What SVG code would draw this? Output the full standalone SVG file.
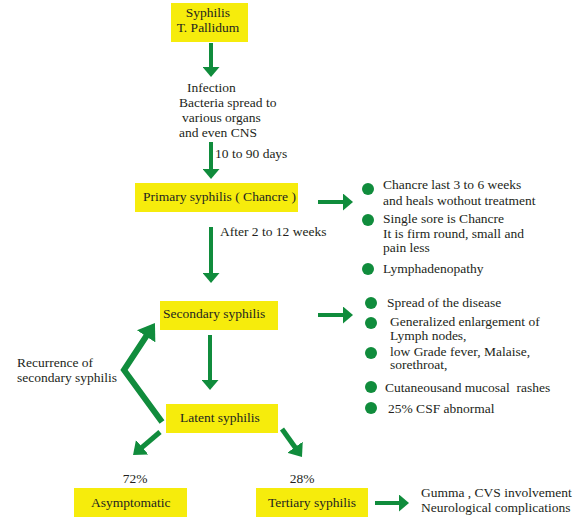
<svg xmlns="http://www.w3.org/2000/svg" width="585" height="526" viewBox="0 0 585 526" font-family="'Liberation Serif', 'Times New Roman', Times, serif" font-size="13.5">
<style>
.box{fill:#f6ec0c}
text{font-family:'Liberation Serif','Times New Roman',Times,serif;font-size:13.5px;fill:#231f20}
.mid{text-anchor:middle}
.sh{fill:none;stroke:#108c3c;stroke-width:4}
.dg{fill:none;stroke:#108c3c;stroke-width:5}
.rc{fill:none;stroke:#108c3c;stroke-width:6;stroke-linejoin:miter}
.dot{fill:#108c3c}
</style>
<defs>
<marker id="ah" markerUnits="userSpaceOnUse" markerWidth="10" markerHeight="17" viewBox="0 0 10 17" refX="1" refY="8.5" orient="auto"><path d="M0,0 L10,8.5 L0,17 z" fill="#108c3c"/></marker>
<marker id="ahd" markerUnits="userSpaceOnUse" markerWidth="12" markerHeight="19" viewBox="0 0 12 19" refX="1" refY="9.5" orient="auto"><path d="M0,0 L12,9.5 L0,19 z" fill="#108c3c"/></marker>
<marker id="ahr" markerUnits="userSpaceOnUse" markerWidth="16" markerHeight="22" viewBox="0 0 16 22" refX="1" refY="11" orient="auto"><path d="M0,0 L16,11 L0,22 z" fill="#108c3c"/></marker>
</defs>
<g id="n-syphilis"><rect class="box" x="171" y="3" width="77" height="39"/><text class="mid" x="208" y="17">Syphilis</text><text class="mid" x="208" y="32">T. Pallidum</text></g>
<g id="n-infection"><text x="187" y="92">Infection</text><text x="179" y="107">Bacteria spread to</text><text x="182" y="122">various organs</text><text x="179" y="137">and even CNS</text></g>
<g id="n-primary"><rect class="box" x="135" y="183" width="163" height="29"/><text x="143" y="201">Primary syphilis ( Chancre )</text></g>
<g id="n-primary-notes">
<circle class="dot" cx="368" cy="189" r="6"/><circle class="dot" cx="368" cy="220" r="6"/><circle class="dot" cx="368" cy="269" r="6"/>
<text x="383" y="189">Chancre last 3 to 6 weeks</text><text x="383" y="205">and heals wothout treatment</text>
<text x="383" y="223">Single sore is Chancre</text><text x="383" y="238">It is firm round, small and</text><text x="383" y="252">pain less</text>
<text x="383" y="273">Lymphadenopathy</text></g>
<g id="n-secondary"><rect class="box" x="160" y="301" width="118" height="29"/><text x="163" y="318">Secondary syphilis</text></g>
<g id="n-secondary-notes">
<circle class="dot" cx="371" cy="303" r="6"/><circle class="dot" cx="371" cy="323" r="6"/><circle class="dot" cx="371" cy="353" r="6"/><circle class="dot" cx="371" cy="387" r="6"/><circle class="dot" cx="371" cy="408" r="6"/>
<text x="387" y="307">Spread of the disease</text>
<text x="390" y="326">Generalized enlargement of</text><text x="390" y="340">Lymph nodes,</text>
<text x="390" y="356">low Grade fever, Malaise,</text><text x="390" y="369">sorethroat,</text>
<text x="385" y="392" xml:space="preserve">Cutaneousand mucosal  rashes</text>
<text x="388" y="413">25% CSF abnormal</text></g>
<g id="n-recurrence"><text x="17" y="367">Recurrence of</text><text x="17" y="382">secondary syphilis</text></g>
<g id="n-latent"><rect class="box" x="166" y="404" width="112" height="29"/><text x="180" y="422">Latent syphilis</text></g>
<g id="n-asymptomatic"><text class="mid" x="135" y="483">72%</text><rect class="box" x="74" y="488" width="113" height="29"/><text x="91" y="507">Asymptomatic</text></g>
<g id="n-tertiary"><text class="mid" x="302" y="483">28%</text><rect class="box" x="256" y="488" width="112" height="29"/><text x="268" y="507">Tertiary syphilis</text></g>
<g id="n-tertiary-notes"><text x="421" y="497">Gumma , CVS involvement</text><text x="421" y="512">Neurological complications</text></g>
<g id="connectors">
<path class="sh" d="M211,43 V68" marker-end="url(#ah)"/>
<path class="sh" d="M211,142 V170" marker-end="url(#ah)"/>
<text x="215" y="158">10 to 90 days</text>
<path class="sh" d="M211,227 V274" marker-end="url(#ah)"/>
<text x="220" y="236">After 2 to 12 weeks</text>
<path class="sh" d="M210,335 V381" marker-end="url(#ah)"/>
<path class="sh" d="M318,202 H344" marker-end="url(#ah)"/>
<path class="sh" d="M318,315 H344" marker-end="url(#ah)"/>
<path class="sh" d="M375,503 H400" marker-end="url(#ah)"/>
<path class="dg" d="M160,432 L141.4,447.9" marker-end="url(#ahd)"/>
<path class="dg" d="M282,429 L295.6,448" marker-end="url(#ahd)"/>
<path class="rc" d="M162,422 L124,370 L146.7,335.5" marker-end="url(#ahr)"/>
</g>
</svg>
